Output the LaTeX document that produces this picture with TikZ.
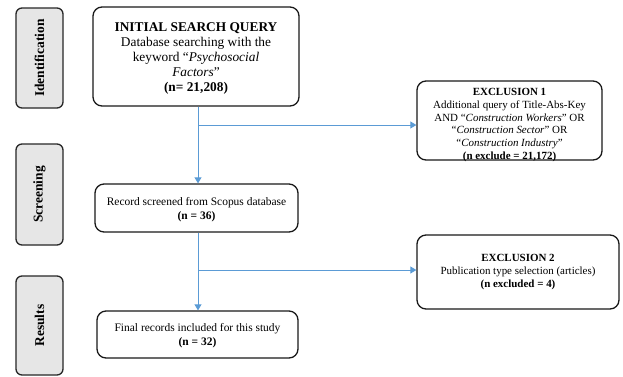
\documentclass[tikz,border=0pt]{standalone}
\usepackage{fontspec}
\setmainfont{Liberation Serif}
\usetikzlibrary{arrows.meta}
\definecolor{flowblue}{RGB}{91,155,213}
\definecolor{sidegray}{RGB}{230,230,230}
\tikzset{
  sidebox/.style={draw=black!85, line width=1.3bp, fill=sidegray, rounded corners=6bp, inner sep=0pt},
  mainbox/.style={draw=black!90, line width=1.3bp, fill=white, rounded corners=9bp, inner sep=0pt},
  boxtext/.style={align=center, inner sep=0pt},
  sidelabel/.style={rotate=90, font=\fontsize{13.5}{14}\selectfont\bfseries},
  flow/.style={draw=flowblue, line width=1bp},
  flowarrow/.style={flow, -{Triangle[width=7bp,length=6bp]}}
}
\begin{document}
\begin{tikzpicture}[x=1bp,y=-1bp]
\useasboundingbox (0,0) rectangle (623,376);
% side boxes
\node[sidebox, minimum width=47bp, minimum height=100bp] (idb) at (39.5,58) {};
\node[sidelabel] (idt) at (idb.center) {Identification};
\node[sidebox, minimum width=47bp, minimum height=101bp] (scb) at (39.5,194.5) {};
\node[sidelabel] (sct) at (scb.center) {Screening};
\node[sidebox, minimum width=47bp, minimum height=99bp] (rsb) at (39.5,325.5) {};
\node[sidelabel] (rst) at (rsb.center) {Results};
% main boxes
\node[mainbox, minimum width=206bp, minimum height=99bp] (init) at (196,56.5) {};
\node[boxtext, font=\fontsize{13.4}{15}\selectfont] (initt) at (196,58.5)
  {\textbf{INITIAL SEARCH QUERY}\\Database searching with the\\keyword ``\textit{Psychosocial}\\\textit{Factors}''\\\textbf{(n= 21,208)}};
\node[mainbox, minimum width=185bp, minimum height=79bp] (ex1) at (509.5,120.5) {};
\node[boxtext, font=\fontsize{11}{12.7}\selectfont] (ex1t) at (509.5,125)
  {\textbf{EXCLUSION 1}\\Additional query of Title-Abs-Key\\AND ``\textit{Construction Workers}'' OR\\``\textit{Construction Sector}'' OR\\``\textit{Construction Industry}''\\\textbf{(n exclude = 21,172)}};
\node[mainbox, minimum width=203bp, minimum height=48bp] (scr) at (196.5,208) {};
\node[boxtext, font=\fontsize{11.5}{14}\selectfont] (scrt) at (196.5,210)
  {Record screened from Scopus database\\\textbf{(n = 36)}};
\node[mainbox, minimum width=202bp, minimum height=74bp] (ex2) at (518,272) {};
\node[boxtext, font=\fontsize{11}{13.5}\selectfont] (ex2t) at (518,272)
  {\textbf{EXCLUSION 2}\\Publication type selection (articles)\\\textbf{(n excluded = 4)}};
\node[mainbox, minimum width=201bp, minimum height=47bp] (fin) at (197.5,334.5) {};
\node[boxtext, font=\fontsize{11.5}{14}\selectfont] (fint) at (197.5,336)
  {Final records included for this study\\\textbf{(n = 32)}};
% connectors
\coordinate (b1) at (198,125);
\coordinate (b2) at (198,270);
\draw[flowarrow] (init.south -| b1) -- (b1 |- scr.north);
\draw[flowarrow] (b1) -- (b1 -| ex1.west);
\draw[flowarrow] (scr.south -| b2) -- (b2 |- fin.north);
\draw[flowarrow] (b2) -- (b2 -| ex2.west);
\end{tikzpicture}
\end{document}
